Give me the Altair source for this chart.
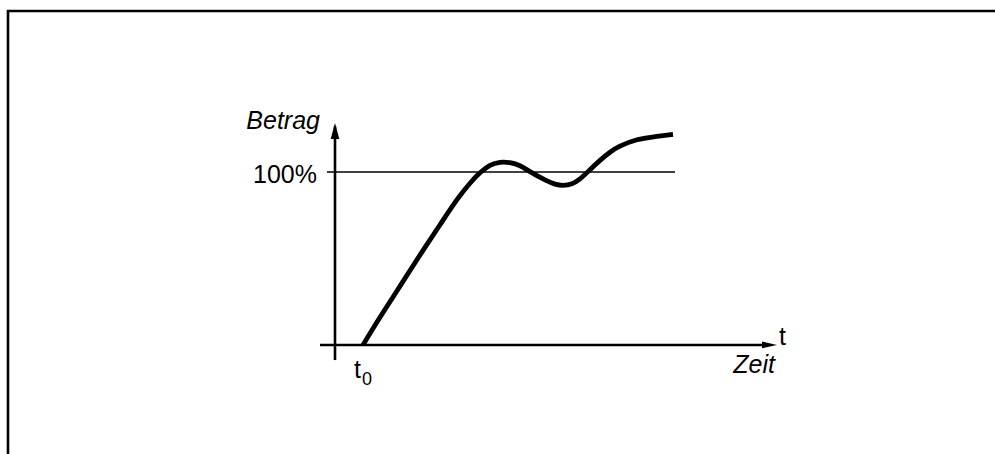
import altair as alt
import pandas as pd

# Step response: time (arbitrary units) and magnitude in percent of the set value
time_points = [2.8, 4.5, 6.5, 8.5, 10.5, 12.2, 13.5, 14.5, 15.5, 16.5, 17.5, 18.5,
               19.5, 21.0, 22.0, 22.8, 23.7, 24.5, 25.3, 26.5, 27.5, 28.5, 30.2,
               32.0, 33.8]
magnitude_pct = [0.0, 16.0, 34.0, 52.0, 69.5, 84.0, 93.5, 99.5, 103.8, 105.6,
                 105.4, 103.6, 100.2, 95.4, 93.0, 92.3, 93.2, 96.0, 100.2, 106.7,
                 111.4, 114.9, 118.6, 120.4, 121.8]

reference_level = 100
t_start = 2.8

# Axis extents in data units
time_axis = [-1.5, 44.2]          # horizontal axis, arrow at the right end
magnitude_axis = [-8.7, 128.3]    # vertical axis, arrow at the top
reference_span = [-0.8, 34.0]     # extent of the 100 % line

W, H = 995, 454
FONT = "Liberation Sans"

x_scale = alt.Scale(domain=[-33.5, 66.0], nice=False, zero=False)
y_scale = alt.Scale(domain=[-63.0, 199.4], nice=False, zero=False)


def X(field, **kw):
    return alt.X(field, type="quantitative", scale=x_scale, axis=None, **kw)


def Y(field, **kw):
    return alt.Y(field, type="quantitative", scale=y_scale, axis=None, **kw)


curve_df = pd.DataFrame({"t": time_points, "v": magnitude_pct})

curve = alt.Chart(curve_df).mark_line(
    color="black", strokeWidth=4.8, interpolate="natural"
).encode(x=X("t"), y=Y("v"))

# Horizontal and vertical axis lines
h_axis = alt.Chart(pd.DataFrame({"t": [time_axis[0]], "t2": [time_axis[1] - 1.0], "v": [0]})).mark_rule(
    color="black", strokeWidth=2.6
).encode(x=X("t"), x2="t2", y=Y("v"))

v_axis = alt.Chart(pd.DataFrame({"t": [0], "v": [magnitude_axis[0]], "v2": [magnitude_axis[1] - 2.0]})).mark_rule(
    color="black", strokeWidth=2.6
).encode(x=X("t"), y=Y("v"), y2="v2")

ref_line = alt.Chart(pd.DataFrame({"t": [reference_span[0]], "t2": [reference_span[1]],
                                   "v": [reference_level]})).mark_rule(
    color="black", strokeWidth=1.6
).encode(x=X("t"), x2="t2", y=Y("v"))

# Arrow heads
arrow_up = alt.Chart(pd.DataFrame({"t": [0], "v": [magnitude_axis[1] - 4.6]})).mark_point(
    shape="M0,-1L0.54,1L-0.54,1Z", size=256, filled=True, color="black", opacity=1, strokeWidth=0
).encode(x=X("t"), y=Y("v"))

arrow_right = alt.Chart(pd.DataFrame({"t": [time_axis[1] - 0.75], "v": [0]})).mark_point(
    shape="M1,0L-1,-0.45L-1,0.45Z", size=225, filled=True, color="black", opacity=1, strokeWidth=0
).encode(x=X("t"), y=Y("v"))

# Labels
lbl_betrag = alt.Chart(pd.DataFrame({"t": [-1.5], "v": [magnitude_axis[1]], "s": ["Betrag"]})).mark_text(
    font=FONT, fontSize=25, fontStyle="italic", align="right", baseline="alphabetic", dy=6, color="black"
).encode(x=X("t"), y=Y("v"), text="s:N")

lbl_100 = alt.Chart(pd.DataFrame({"t": [-1.8], "v": [reference_level], "s": ["100%"]})).mark_text(
    font=FONT, fontSize=25, align="right", baseline="alphabetic", dy=11, color="black"
).encode(x=X("t"), y=Y("v"), text="s:N")

lbl_t0 = alt.Chart(pd.DataFrame({"t": [t_start], "v": [0], "s": ["t"]})).mark_text(
    font=FONT, fontSize=25, align="right", baseline="alphabetic", dx=-2, dy=33, color="black"
).encode(x=X("t"), y=Y("v"), text="s:N")

lbl_t0_sub = alt.Chart(pd.DataFrame({"t": [t_start], "v": [0], "s": ["0"]})).mark_text(
    font=FONT, fontSize=18, align="left", baseline="alphabetic", dx=-1, dy=40, color="black"
).encode(x=X("t"), y=Y("v"), text="s:N")

lbl_zeit = alt.Chart(pd.DataFrame({"t": [time_axis[1]], "v": [0], "s": ["Zeit"]})).mark_text(
    font=FONT, fontSize=25, fontStyle="italic", align="right", baseline="alphabetic", dx=-2, dy=28, color="black"
).encode(x=X("t"), y=Y("v"), text="s:N")

lbl_t = alt.Chart(pd.DataFrame({"t": [time_axis[1]], "v": [0], "s": ["t"]})).mark_text(
    font=FONT, fontSize=25, align="left", baseline="alphabetic", dx=2, dy=0, color="black"
).encode(x=X("t"), y=Y("v"), text="s:N")

# Frame lines along the left and top edges
frame_left = alt.Chart(pd.DataFrame({"k": [0]})).mark_rule(color="black", strokeWidth=2.6).encode(
    x=alt.value(8), y=alt.value(10), y2=alt.value(H)
)
frame_top = alt.Chart(pd.DataFrame({"k": [0]})).mark_rule(color="black", strokeWidth=2.6).encode(
    x=alt.value(7), x2=alt.value(W), y=alt.value(11)
)

chart = alt.layer(
    frame_left, frame_top, ref_line, h_axis, v_axis, arrow_up, arrow_right, curve,
    lbl_betrag, lbl_100, lbl_t0, lbl_t0_sub, lbl_zeit, lbl_t
).properties(
    width=W, height=H, padding=0, autosize=alt.AutoSizeParams(type="none"), background="white"
).configure_view(stroke=None)

chart.save("out.html", embed_options={"renderer": "svg", "actions": False})
